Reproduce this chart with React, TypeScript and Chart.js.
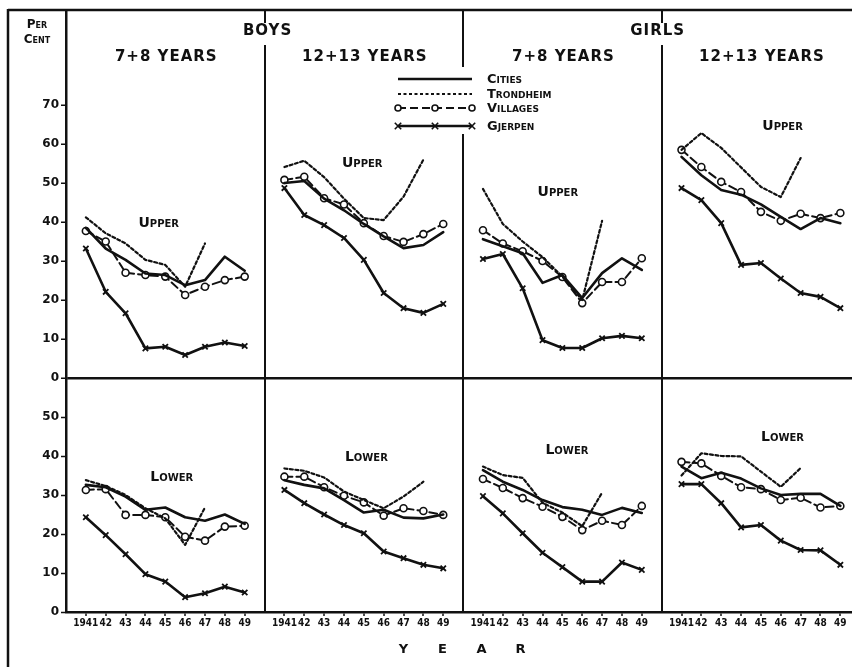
import React, { useEffect, useRef } from 'react';
import { Chart, registerables } from 'chart.js';

Chart.register(...registerables);

// ---------- data ----------
const YEARS = [1941, 1942, 1943, 1944, 1945, 1946, 1947, 1948, 1949];
const YEAR_TICK_LABELS = ['1941', '42', '43', '44', '45', '46', '47', '48', '49'];
const SEX_GROUPS = ['BOYS', 'GIRLS'];
const AGE_GROUPS = ['7+8 YEARS', '12+13 YEARS', '7+8 YEARS', '12+13 YEARS'];
const ROW_LABELS = ['Upper', 'Lower'];
const UPPER_TICKS = [0, 10, 20, 30, 40, 50, 60, 70];
const LOWER_TICKS = [0, 10, 20, 30, 40, 50];
const SERIES_NAMES = ['Cities', 'Trondheim', 'Villages', 'Gjerpen'];

// one list per panel: boys 7+8, boys 12+13, girls 7+8, girls 12+13 (1941..1949)
const CITIES_UPPER = [
  [38.5, 33.2, 30.3, 26.8, 26.4, 23.8, 25.1, 31.1, 27.5],
  [50.0, 50.5, 46.0, 43.0, 39.5, 36.3, 33.3, 34.1, 37.4],
  [35.6, 33.8, 32.0, 24.4, 26.4, 20.5, 26.9, 30.7, 27.7],
  [56.7, 52.0, 48.2, 47.0, 44.5, 41.3, 38.2, 41.0, 39.7],
];
const TRONDHEIM_UPPER = [
  [41.2, 37.1, 34.5, 30.3, 29.0, 23.4, 34.5, null, null],
  [54.1, 55.7, 51.5, 46.0, 41.0, 40.5, 46.5, 56.0, null],
  [48.5, 39.5, 35.0, 31.0, 26.0, 20.0, 40.3, null, null],
  [58.5, 62.8, 59.0, 54.0, 49.0, 46.4, 56.4, null, null],
];
const VILLAGES_UPPER = [
  [37.7, 35.0, 27.0, 26.4, 26.0, 21.3, 23.4, 25.1, 26.0],
  [50.8, 51.6, 46.1, 44.5, 39.7, 36.4, 34.9, 36.9, 39.5],
  [37.9, 34.5, 32.5, 30.0, 25.9, 19.2, 24.6, 24.6, 30.7],
  [58.5, 54.1, 50.3, 47.7, 42.6, 40.3, 42.1, 41.0, 42.3],
];
const GJERPEN_UPPER = [
  [33.2, 22.1, 16.6, 7.6, 8.0, 5.9, 8.0, 9.1, 8.2],
  [48.7, 41.8, 39.2, 35.9, 30.3, 21.8, 17.9, 16.7, 19.0],
  [30.5, 31.8, 23.0, 9.7, 7.7, 7.7, 10.2, 10.8, 10.2],
  [48.7, 45.6, 39.7, 29.0, 29.5, 25.5, 21.8, 20.8, 17.9],
];
const CITIES_LOWER = [
  [32.6, 32.0, 29.6, 26.2, 26.8, 24.3, 23.4, 25.0, 22.6],
  [33.8, 32.6, 31.7, 28.7, 25.5, 26.2, 24.2, 24.0, 25.0],
  [36.4, 33.4, 31.3, 28.7, 26.9, 26.2, 24.9, 26.7, 25.4],
  [37.3, 34.3, 35.7, 34.2, 31.7, 30.0, 30.3, 30.3, 27.2],
];
const TRONDHEIM_LOWER = [
  [33.8, 32.3, 30.0, 26.6, 24.0, 17.2, 26.8, null, null],
  [36.8, 36.2, 34.5, 30.9, 28.7, 26.6, 29.6, 33.4, null],
  [37.3, 35.1, 34.4, 28.0, 25.5, 22.0, 30.6, null, null],
  [35.0, 40.7, 40.0, 39.9, 36.0, 32.1, 36.9, null, null],
];
const VILLAGES_LOWER = [
  [31.3, 31.5, 24.9, 24.9, 24.3, 19.3, 18.3, 21.9, 22.1],
  [34.7, 34.7, 32.0, 29.8, 28.1, 24.7, 26.6, 25.9, 24.9],
  [34.1, 31.8, 29.2, 27.0, 24.4, 21.0, 23.4, 22.3, 27.2],
  [38.5, 38.1, 34.9, 32.0, 31.5, 28.7, 29.3, 26.8, 27.2],
];
const GJERPEN_LOWER = [
  [24.3, 19.7, 14.8, 9.7, 7.8, 3.8, 4.8, 6.5, 5.0],
  [31.3, 27.9, 25.0, 22.3, 20.2, 15.5, 13.8, 12.1, 11.2],
  [29.7, 25.3, 20.2, 15.2, 11.5, 7.8, 7.8, 12.7, 10.8],
  [32.8, 32.8, 27.9, 21.7, 22.3, 18.3, 15.9, 15.8, 12.1],
];

// ---------- styling ----------
const INK = '#111';
const FONT = "'DejaVu Sans', sans-serif";
const NARROW = "'DejaVu Sans Condensed', 'Liberation Sans Narrow', 'DejaVu Sans', sans-serif";
const PANEL_SPAN = 10; // x-units per panel
const CANVAS_W = 866;
const VIEW_W = 852;
const VIEW_H = 667;

const SERIES_STYLE: Record<string, any> = {
  Cities: { borderWidth: 2.6, borderDash: [], pointRadius: 0, pointStyle: false },
  Trondheim: { borderWidth: 2.2, borderDash: [3, 2.5], pointRadius: 0, pointStyle: false },
  Villages: {
    borderWidth: 2,
    borderDash: [8, 4],
    pointStyle: 'circle',
    pointRadius: 3.5,
    pointBackgroundColor: '#fff',
    pointBorderWidth: 1.6,
  },
  Gjerpen: { borderWidth: 2.6, borderDash: [], pointStyle: 'crossRot', pointRadius: 3.8, pointBorderWidth: 1.8 },
};

function toPoints(panels: (number | null)[][]) {
  const pts: { x: number; y: number | null }[] = [];
  panels.forEach((vals, p) => {
    YEARS.forEach((yr, i) => {
      pts.push({ x: p * PANEL_SPAN + (yr - YEARS[0]) + 1, y: vals[i] });
    });
    pts.push({ x: p * PANEL_SPAN + PANEL_SPAN, y: null });
  });
  return pts;
}

const UPPER_SERIES = [CITIES_UPPER, TRONDHEIM_UPPER, VILLAGES_UPPER, GJERPEN_UPPER];
const LOWER_SERIES = [CITIES_LOWER, TRONDHEIM_LOWER, VILLAGES_LOWER, GJERPEN_LOWER];

function makeDatasets() {
  const ds: any[] = [];
  [UPPER_SERIES, LOWER_SERIES].forEach((rows, r) => {
    rows.forEach((panels, s) => {
      const name = SERIES_NAMES[s];
      const st = SERIES_STYLE[name];
      ds.push({
        label: `${name} ${ROW_LABELS[r]}`,
        data: toPoints(panels),
        yAxisID: r === 0 ? 'yUp' : 'yLow',
        borderColor: INK,
        pointBorderColor: INK,
        pointBackgroundColor: st.pointBackgroundColor || INK,
        backgroundColor: INK,
        fill: false,
        tension: 0,
        spanGaps: false,
        borderCapStyle: 'round',
        borderJoinStyle: 'round',
        ...st,
      });
    });
  });
  return ds;
}

// positions (x in panel units, y in per cent) of the "Upper" / "Lower" captions
const UPPER_CAPTION_POS = [
  [4.67, 39.7],
  [4.92, 55.1],
  [4.77, 47.7],
  [6.09, 64.4],
];
const LOWER_CAPTION_POS = [
  [5.33, 34.6],
  [5.13, 39.7],
  [5.23, 41.5],
  [6.09, 44.9],
];

function drawCross(ctx: CanvasRenderingContext2D, x: number, y: number, r: number) {
  ctx.beginPath();
  ctx.moveTo(x - r, y - r);
  ctx.lineTo(x + r, y + r);
  ctx.moveTo(x - r, y + r);
  ctx.lineTo(x + r, y - r);
  ctx.stroke();
}
function drawCircle(ctx: CanvasRenderingContext2D, x: number, y: number, r: number) {
  ctx.beginPath();
  ctx.arc(x, y, r, 0, Math.PI * 2);
  ctx.fillStyle = '#fff';
  ctx.fill();
  ctx.stroke();
}

const annotate = {
  id: 'annotate',
  afterDraw(chart: any) {
    const { ctx, chartArea, scales } = chart;
    const xs = scales.x;
    const yu = scales.yUp;
    const yl = scales.yLow;
    ctx.save();
    ctx.strokeStyle = INK;
    ctx.fillStyle = INK;

    // outer frame (left and top)
    ctx.lineWidth = 2.5;
    ctx.setLineDash([]);
    ctx.beginPath();
    ctx.moveTo(8, chartArea.top);
    ctx.lineTo(chart.width, chartArea.top);
    ctx.moveTo(8, chartArea.top - 1);
    ctx.lineTo(8, chart.height);
    ctx.stroke();

    // BOYS / GIRLS headers
    ctx.textAlign = 'center';
    ctx.textBaseline = 'middle';
    ctx.font = `bold 15px ${FONT}`;
    (ctx as any).letterSpacing = '1px';
    SEX_GROUPS.forEach((g, i) => {
      const cx = xs.getPixelForValue((2 * i + 1) * PANEL_SPAN) + (i === 0 ? 3 : -4);
      ctx.fillStyle = '#fff';
      ctx.fillRect(cx - 30, chartArea.top + 13, 60, 22);
      ctx.fillStyle = INK;
      ctx.fillText(g, cx, chartArea.top + 21);
    });
    AGE_GROUPS.forEach((a, p) => {
      ctx.font = `bold 15px ${FONT}`;
      ctx.fillText(a, xs.getPixelForValue(p * PANEL_SPAN + 5) + 1, chartArea.top + 47);
    });
    (ctx as any).letterSpacing = '0px';

    // Upper / Lower captions
    ctx.font = `small-caps bold 14px ${FONT}`;
    UPPER_CAPTION_POS.forEach(([px, v], p) => {
      ctx.fillText(ROW_LABELS[0], xs.getPixelForValue(p * PANEL_SPAN + px), yu.getPixelForValue(v));
    });
    LOWER_CAPTION_POS.forEach(([px, v], p) => {
      ctx.fillText(ROW_LABELS[1], xs.getPixelForValue(p * PANEL_SPAN + px), yl.getPixelForValue(v));
    });

    // legend
    const lx0 = 398;
    const lx1 = 472;
    const ltx = 487;
    const ly = [79, 94, 108, 126];
    ctx.fillStyle = '#fff';
    ctx.fillRect(391, 67, 194, 67);
    SERIES_NAMES.forEach((name, i) => {
      const st = SERIES_STYLE[name];
      const y = ly[i];
      ctx.strokeStyle = INK;
      ctx.lineWidth = st.borderWidth;
      ctx.setLineDash(st.borderDash || []);
      ctx.beginPath();
      ctx.moveTo(lx0, y);
      ctx.lineTo(lx1, y);
      ctx.stroke();
      ctx.setLineDash([]);
      ctx.lineWidth = 1.6;
      [lx0, (lx0 + lx1) / 2, lx1].forEach((mx) => {
        if (name === 'Villages') drawCircle(ctx, mx, y, 3);
        if (name === 'Gjerpen') drawCross(ctx, mx, y, 3.2);
      });
      ctx.fillStyle = INK;
      ctx.textAlign = 'left';
      ctx.font = `small-caps bold 13px ${FONT}`;
      ctx.fillText(name, ltx, y + 1);
    });

    // y axis caption
    ctx.textAlign = 'center';
    ctx.font = `small-caps bold 12px ${FONT}`;
    ctx.fillText('Per', 37, chartArea.top + 15);
    ctx.fillText('Cent', 37, chartArea.top + 30);

    // x axis caption, centred on the visible plot width
    ctx.font = `bold 13px ${FONT}`;
    const word = 'YEAR';
    const mid = (chartArea.left + VIEW_W) / 2 + 3;
    for (let i = 0; i < word.length; i++) {
      ctx.fillText(word[i], mid + (i - 1.5) * 39, 650);
    }
    ctx.restore();
  },
};

const X_TICK_VALUES: number[] = [];
for (let p = 0; p < 4; p++) for (let k = 0; k < PANEL_SPAN; k++) X_TICK_VALUES.push(p * PANEL_SPAN + k);

export default function App() {
  const ref = useRef<HTMLCanvasElement>(null);
  useEffect(() => {
    const chart = new Chart(ref.current as HTMLCanvasElement, {
      type: 'line',
      data: { datasets: makeDatasets() },
      plugins: [annotate],
      options: {
        responsive: false,
        animation: false,
        devicePixelRatio: 1,
        layout: { padding: { left: 8, top: 10, right: 5, bottom: 0 } },
        plugins: { legend: { display: false }, tooltip: { enabled: false }, title: { display: false } },
        scales: {
          x: {
            type: 'linear',
            min: 0,
            max: 40,
            afterBuildTicks: (axis: any) => {
              axis.ticks = X_TICK_VALUES.map((v) => ({ value: v }));
            },
            afterFit: (s: any) => {
              s.height = 55;
            },
            grid: {
              color: (c: any) => (c.tick && c.tick.value % PANEL_SPAN === 0 ? INK : 'rgba(0,0,0,0)'),
              lineWidth: 2,
              drawTicks: true,
              tickLength: 4,
              tickColor: (c: any) => (c.tick && c.tick.value % PANEL_SPAN === 0 ? 'rgba(0,0,0,0)' : INK),
              tickWidth: 1.5,
            },
            border: { color: INK, width: 2.5 },
            ticks: {
              autoSkip: false,
              maxRotation: 0,
              minRotation: 0,
              padding: 1,
              color: INK,
              font: { family: NARROW, size: 10, weight: 'bold' },
              callback: (v: any) => {
                const r = Math.round(Number(v)) % PANEL_SPAN;
                return r === 0 ? '' : YEAR_TICK_LABELS[r - 1];
              },
            },
          },
          yLow: {
            type: 'linear',
            position: 'left',
            stack: 'rows',
            stackWeight: 234,
            min: 0,
            max: 60,
            afterBuildTicks: (axis: any) => {
              axis.ticks = LOWER_TICKS.map((v) => ({ value: v }));
            },
            afterFit: (s: any) => {
              s.width = 58;
            },
            grid: { color: 'rgba(0,0,0,0)', drawTicks: true, tickLength: 5, tickColor: INK, tickWidth: 1.5 },
            border: { color: INK, width: 2.5 },
            ticks: { color: INK, padding: 2, font: { family: FONT, size: 12, weight: 'bold' } },
          },
          yUp: {
            type: 'linear',
            position: 'left',
            stack: 'rows',
            stackWeight: 368,
            min: 0,
            max: 94.36,
            afterBuildTicks: (axis: any) => {
              axis.ticks = UPPER_TICKS.map((v) => ({ value: v }));
            },
            afterFit: (s: any) => {
              s.width = 58;
            },
            grid: {
              color: (c: any) => (c.tick && c.tick.value === 0 ? INK : 'rgba(0,0,0,0)'),
              lineWidth: 2.5,
              drawTicks: true,
              tickLength: 5,
              tickColor: INK,
              tickWidth: 1.5,
            },
            border: { color: INK, width: 2.5 },
            ticks: { color: INK, padding: 2, font: { family: FONT, size: 12, weight: 'bold' } },
          },
        },
      } as any,
    });
    return () => chart.destroy();
  }, []);
  return (
    <div
      style={{
        position: 'absolute',
        left: 0,
        top: 0,
        width: VIEW_W,
        height: VIEW_H,
        overflow: 'hidden',
        background: '#fff',
      }}
    >
      <canvas
        ref={ref}
        width={CANVAS_W}
        height={VIEW_H}
        style={{ display: 'block', width: CANVAS_W, height: VIEW_H }}
      />
    </div>
  );
}
